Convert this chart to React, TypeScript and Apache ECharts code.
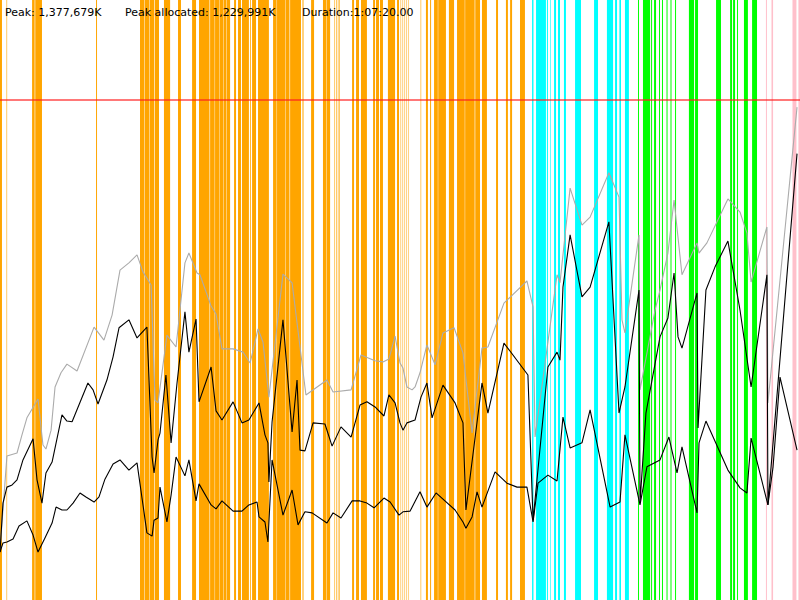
import React, { useEffect, useRef } from "react";
import * as echarts from "echarts";

// ---- summary / axis constants (memory in MB = thousands of K, time in seconds) ----
const DURATION_SEC = 4040; // 1:07:20
const PEAK_MB = 1377.679;
const SUMMARY_TEXTS = ["Peak: 1,377,679K", "Peak allocated: 1,229,991K", "Duration:1:07:20.00"];
const SUMMARY_X = [5, 125, 302];

// committed heap (gray)  [time s, MB]
const committed: number[][] = [
  [0, 138], [35, 397], [86, 405], [111, 455], [136, 502], [192, 554], [217, 427], [232, 416], [258, 468],
  [278, 587], [308, 626], [338, 650], [389, 631], [475, 752], [525, 716], [566, 785], [606, 909], [651, 929],
  [692, 951], [722, 904], [763, 868], [783, 551], [798, 543], [843, 730], [889, 697], [934, 929], [954, 956],
  [995, 901], [1010, 896], [1066, 810], [1091, 788], [1121, 692], [1177, 692], [1227, 683], [1263, 653],
  [1303, 747], [1328, 711], [1358, 559], [1429, 898], [1475, 874], [1545, 565], [1651, 606], [1682, 573],
  [1773, 579], [1823, 675], [1894, 659], [1934, 656], [1964, 664], [1995, 727], [2020, 653], [2035, 639],
  [2055, 587], [2081, 579], [2096, 587], [2121, 626], [2156, 703], [2197, 648], [2237, 736], [2293, 750],
  [2338, 681], [2384, 460], [2434, 694], [2464, 697], [2545, 818], [2661, 879], [2692, 807], [2702, 449],
  [2813, 896], [2828, 874], [2879, 1135], [2939, 1033], [2980, 1055], [3075, 1177], [3126, 1110], [3141, 772],
  [3156, 736], [3227, 1006], [3232, 579], [3308, 799], [3333, 854], [3373, 956], [3404, 1102], [3444, 896],
  [3520, 984], [3530, 956], [3570, 984], [3676, 1105], [3737, 1069], [3772, 1011], [3793, 876], [3873, 1028],
  [3878, 543], [4025, 1358],
];

// used before collection (upper black)
const usedBefore: number[][] = [
  [0, 132], [15, 267], [35, 311], [61, 317], [86, 331], [116, 386], [167, 444], [187, 331], [212, 267],
  [232, 350], [263, 380], [313, 510], [338, 493], [364, 491], [444, 598], [470, 579], [495, 540], [540, 606],
  [571, 670], [601, 750], [651, 772], [692, 722], [742, 752], [768, 394], [778, 350], [798, 441], [808, 460],
  [838, 620], [864, 433], [894, 598], [934, 794], [954, 683], [990, 774], [1005, 546], [1066, 642], [1091, 521],
  [1121, 496], [1177, 546], [1222, 488], [1257, 496], [1308, 543], [1338, 455], [1353, 433], [1358, 325],
  [1374, 491], [1429, 772], [1475, 463], [1500, 606], [1515, 413], [1540, 411], [1581, 488], [1641, 485],
  [1677, 424], [1722, 477], [1773, 449], [1818, 537], [1853, 546], [1894, 532], [1939, 507], [1964, 565],
  [1995, 543], [2020, 488], [2035, 468], [2055, 488], [2096, 496], [2126, 559], [2156, 598], [2182, 502],
  [2237, 592], [2298, 543], [2338, 488], [2353, 248], [2434, 598], [2464, 515], [2545, 708], [2666, 620],
  [2692, 220], [2767, 642], [2813, 683], [2828, 661], [2843, 862], [2879, 1006], [2939, 835], [2980, 862],
  [3075, 1042], [3126, 515], [3156, 587], [3227, 854], [3232, 267], [3262, 515], [3333, 725], [3373, 777],
  [3404, 901], [3424, 725], [3444, 694], [3520, 846], [3525, 474], [3565, 854], [3611, 918], [3676, 989],
  [3737, 799], [3793, 587], [3873, 896], [3878, 262], [4025, 1230],
];

// used after collection (lower black)
const usedAfter: number[][] = [
  [0, 132], [15, 157], [35, 160], [66, 168], [96, 204], [136, 218], [167, 179], [192, 132], [227, 171],
  [263, 212], [283, 256], [313, 248], [338, 248], [369, 267], [404, 295], [434, 284], [475, 270], [500, 284],
  [530, 333], [571, 375], [606, 386], [651, 358], [692, 378], [742, 185], [768, 176], [778, 220], [798, 226],
  [808, 311], [843, 215], [864, 289], [889, 394], [934, 342], [954, 386], [990, 273], [1005, 320], [1066, 262],
  [1091, 251], [1121, 273], [1177, 245], [1222, 245], [1257, 262], [1298, 270], [1308, 229], [1338, 215],
  [1353, 160], [1374, 386], [1429, 234], [1475, 303], [1505, 207], [1540, 243], [1576, 240], [1651, 212],
  [1682, 240], [1722, 226], [1778, 273], [1818, 273], [1853, 267], [1889, 254], [1939, 281], [1970, 270],
  [2015, 234], [2035, 243], [2071, 245], [2121, 298], [2156, 256], [2202, 295], [2298, 248], [2338, 215],
  [2353, 198], [2384, 229], [2409, 298], [2434, 256], [2500, 353], [2560, 322], [2611, 311], [2661, 311],
  [2692, 215], [2717, 322], [2767, 344], [2813, 328], [2843, 504], [2879, 419], [2939, 433], [2980, 524],
  [3081, 256], [3131, 270], [3156, 455], [3232, 262], [3267, 367], [3333, 386], [3378, 449], [3419, 350],
  [3444, 422], [3520, 240], [3530, 433], [3565, 493], [3676, 358], [3737, 309], [3772, 295], [3793, 446],
  [3878, 262], [3904, 367], [3939, 614], [4025, 413],
];

// GC pauses [start s, end s]
const youngPauses: number[][] = [
  [0, 10], [33, 36], [162, 175], [178, 212], [485, 490], [707, 729], [731, 754], [756, 779], [782, 803],
  [828, 859], [899, 914], [970, 990], [1005, 1058], [1061, 1084], [1086, 1109], [1111, 1129], [1131, 1144],
  [1146, 1162], [1182, 1192], [1202, 1217], [1222, 1257], [1263, 1267], [1273, 1293], [1303, 1358],
  [1379, 1397], [1399, 1442], [1444, 1462], [1465, 1520], [1527, 1529], [1532, 1534], [1571, 1586],
  [1631, 1649], [1651, 1667], [1689, 1692], [1697, 1700], [1706, 1709], [1714, 1717], [1778, 1788],
  [1798, 1813], [1823, 1853], [1884, 1894], [1899, 1914], [1919, 1934], [1959, 1995], [2005, 2015],
  [2023, 2025], [2033, 2035], [2043, 2045], [2053, 2055], [2063, 2065], [2124, 2127], [2151, 2161],
  [2172, 2177], [2192, 2211], [2213, 2252], [2267, 2293], [2308, 2347], [2349, 2397], [2400, 2424],
  [2434, 2459], [2505, 2515], [2555, 2565], [2576, 2586], [2626, 2651],
];
const remarkPauses: number[][] = [
  [2687, 2694], [2707, 2757], [2762, 2767], [2778, 2781], [2798, 2808], [2818, 2828], [2848, 2858],
  [2904, 2934], [3000, 3020], [3065, 3096], [3106, 3116], [3128, 3136], [3156, 3176],
];
const mixedPauses: number[][] = [
  [3222, 3227], [3247, 3283], [3288, 3293], [3303, 3313], [3328, 3333], [3343, 3348], [3366, 3371],
  [3386, 3391], [3409, 3414], [3479, 3505], [3510, 3525], [3616, 3641], [3687, 3697], [3702, 3712],
  [3722, 3727], [3757, 3777], [3798, 3823],
];
const fullPauses: number[][] = [
  [3868, 3873], [3896, 3904], [4002, 4022], [4032, 4040],
];

function pauseSeries(name: string, data: number[][], color: string) {
  return {
    type: "custom",
    name,
    data,
    encode: { x: [0, 1] },
    silent: true,
    z: 1,
    renderItem: (params: any, api: any) => {
      const a = api.coord([api.value(0), 0]);
      const b = api.coord([api.value(1), 0]);
      const cs = params.coordSys;
      return {
        type: "rect",
        shape: { x: a[0], y: cs.y, width: Math.max(b[0] - a[0], 0.5), height: cs.height },
        style: { fill: color },
      };
    },
  };
}

function lineSeries(name: string, data: number[][], color: string, z: number, extra: any = {}) {
  return {
    type: "line",
    name,
    data,
    symbol: "none",
    showSymbol: false,
    silent: true,
    z,
    lineStyle: { color, width: 1.1 },
    ...extra,
  };
}

export default function App() {
  const ref = useRef<HTMLDivElement>(null);
  useEffect(() => {
    document.body.style.margin = "0";
    if (!ref.current) return;
    const chart = echarts.init(ref.current, null, { renderer: "svg" });
    chart.setOption({
      animation: false,
      backgroundColor: "#ffffff",
      grid: { left: 0, right: 0, top: 0, bottom: 0 },
      xAxis: { type: "value", min: 0, max: DURATION_SEC, show: false },
      yAxis: { type: "value", min: 0, max: PEAK_MB * 1.2, show: false },
      graphic: SUMMARY_TEXTS.map((t, i) => ({
        type: "text",
        x: SUMMARY_X[i],
        y: 7,
        z: 100,
        style: { text: t, fill: "#000000", font: '11px "DejaVu Sans"' },
      })),
      series: [
        pauseSeries("young", youngPauses, "#ffa500"),
        pauseSeries("remark", remarkPauses, "#00ffff"),
        pauseSeries("mixed", mixedPauses, "#00ff00"),
        pauseSeries("full", fullPauses, "#ffc0cb"),
        lineSeries("committed", committed, "#ababab", 3),
        lineSeries("usedAfter", usedAfter, "#000000", 4),
        lineSeries("usedBefore", usedBefore, "#000000", 5, {
          markLine: {
            silent: true,
            symbol: "none",
            label: { show: false },
            lineStyle: { color: "rgba(255,30,30,0.6)", width: 2, type: "solid" },
            data: [{ yAxis: PEAK_MB }],
          },
        }),
      ],
    });
    return () => chart.dispose();
  }, []);
  return <div ref={ref} style={{ width: 800, height: 600 }} />;
}
